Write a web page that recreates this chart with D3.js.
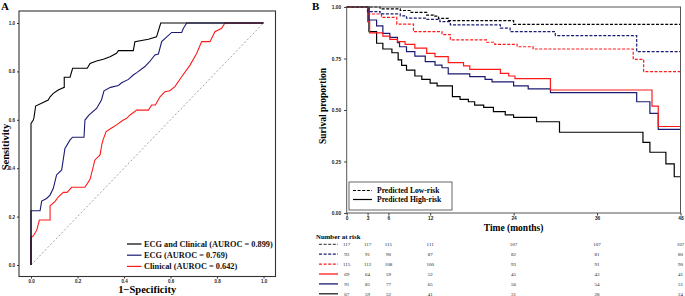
<!DOCTYPE html>
<html>
<head>
<meta charset="utf-8">
<script src="https://cdn.jsdelivr.net/npm/d3@7"></script>
<style>
  body { margin: 0; background: #fff; }
  svg { display: block; font-family: "Liberation Serif", "Times New Roman", serif; }
  .tick text { font-weight: bold; fill: #222; }
  .tick line { stroke: #333; }
</style>
</head>
<body>
<div id="chart"></div>
<script>
// ---- panel A: ROC data (1-specificity, sensitivity) ----
const rocComboFpr  = [0, 0, 0.01, 0.013, 0.02, 0.074, 0.082, 0.096, 0.117, 0.143, 0.143, 0.168, 0.179, 0.242, 0.254, 0.282, 0.311, 0.34, 0.368, 0.376, 0.44, 0.447, 0.505, 0.54, 0.558, 1];
const rocComboSens = [0, 0.585, 0.599, 0.61, 0.657, 0.682, 0.695, 0.709, 0.723, 0.734, 0.776, 0.776, 0.813, 0.813, 0.833, 0.843, 0.85, 0.861, 0.875, 0.886, 0.886, 0.923, 0.933, 0.943, 1, 1];

const rocEcgFpr  = [0, 0, 0.039, 0.046, 0.067, 0.082, 0.096, 0.11, 0.132, 0.146, 0.168, 0.179, 0.228, 0.232, 0.25, 0.282, 0.303, 0.314, 0.342, 0.376, 0.39, 0.419, 0.44, 0.455, 0.49, 0.51, 0.533, 0.548, 0.562, 0.584, 0.605, 0.648, 0.655, 0.67, 1];
const rocEcgSens = [0, 0.224, 0.224, 0.264, 0.275, 0.289, 0.317, 0.372, 0.393, 0.482, 0.517, 0.528, 0.528, 0.599, 0.62, 0.647, 0.682, 0.72, 0.734, 0.742, 0.753, 0.767, 0.785, 0.795, 0.82, 0.84, 0.868, 0.872, 0.923, 0.943, 0.961, 0.961, 0.977, 1, 1];

const rocClinFpr  = [0, 0, 0.01, 0.025, 0.036, 0.082, 0.082, 0.103, 0.118, 0.139, 0.155, 0.175, 0.232, 0.254, 0.275, 0.297, 0.305, 0.31, 0.323, 0.345, 0.368, 0.397, 0.41, 0.426, 0.455, 0.505, 0.519, 0.535, 0.555, 0.576, 0.597, 0.619, 0.648, 0.684, 0.713, 0.734, 0.77, 0.791, 0.82, 0.834, 1];
const rocClinSens = [0, 0.114, 0.12, 0.145, 0.186, 0.186, 0.245, 0.262, 0.282, 0.3, 0.3, 0.321, 0.321, 0.354, 0.434, 0.455, 0.5, 0.517, 0.551, 0.565, 0.579, 0.599, 0.605, 0.62, 0.64, 0.64, 0.661, 0.661, 0.695, 0.716, 0.72, 0.737, 0.778, 0.826, 0.875, 0.923, 0.923, 0.964, 0.978, 1, 1];

const rocLabels = ["ECG and Clinical (AUROC = 0.899)", "ECG (AUROC = 0.769)", "Clinical (AUROC = 0.642)"];
const rocTicks = [0, 0.2, 0.4, 0.6, 0.8, 1.0];

// ---- panel B: Kaplan-Meier steps (time in months, survival) ----
const kmComboLowTime  = [0, 4.8, 7.7, 9.1, 11.5, 12.5, 13.2, 14.6, 24];
const kmComboLowSurv  = [1, 0.991, 0.983, 0.974, 0.961, 0.956, 0.945, 0.934, 0.916];
const kmEcgLowTime    = [0, 3.0, 4.8, 7.7, 8.6, 11.3, 13.4, 14.9, 22.1, 23.5, 30, 41.7];
const kmEcgLowSurv    = [1, 0.978, 0.967, 0.957, 0.946, 0.94, 0.929, 0.913, 0.897, 0.88, 0.861, 0.783];
const kmClinLowTime   = [0, 3.0, 5.0, 7.2, 9.6, 13.7, 14.9, 20.1, 21.3, 24.5, 26.8, 41.2, 42.7];
const kmClinLowSurv   = [1, 0.966, 0.95, 0.917, 0.88, 0.866, 0.84, 0.829, 0.819, 0.807, 0.796, 0.746, 0.686];
const kmClinHighTime  = [0, 3.0, 3.3, 5.2, 6.2, 7.3, 8.4, 9.8, 11.5, 12.7, 14.6, 16.8, 17.7, 22.1, 23.3, 24.2, 29.3, 43.9, 44.8];
const kmClinHighSurv  = [1, 0.929, 0.874, 0.859, 0.843, 0.832, 0.819, 0.80, 0.775, 0.759, 0.730, 0.714, 0.697, 0.678, 0.665, 0.652, 0.597, 0.519, 0.42];
const kmEcgHighTime   = [0, 3.2, 4.3, 5.2, 6.2, 7.3, 7.6, 8.6, 9.8, 11.3, 12.7, 13.7, 14.6, 17.7, 19.9, 20.9, 24, 26.1, 29.3, 41.7, 43.6, 44.8];
const kmEcgHighSurv   = [1, 0.937, 0.908, 0.872, 0.853, 0.827, 0.807, 0.783, 0.762, 0.735, 0.718, 0.705, 0.675, 0.662, 0.649, 0.637, 0.617, 0.603, 0.584, 0.54, 0.484, 0.406];
const kmComboHighTime = [0, 3.2, 4.3, 5.2, 6.5, 7.4, 7.9, 8.6, 9.8, 10.8, 12, 13, 15.2, 16.3, 17.5, 18.4, 19.7, 21.1, 22.8, 24, 27.3, 30.6, 42.6, 43.6, 45.9, 47.1];
const kmComboHighSurv = [1, 0.88, 0.824, 0.796, 0.778, 0.743, 0.717, 0.694, 0.665, 0.649, 0.63, 0.617, 0.565, 0.552, 0.54, 0.524, 0.513, 0.492, 0.476, 0.464, 0.443, 0.392, 0.343, 0.295, 0.238, 0.176];

const kmTicks = [0, 3, 6, 12, 24, 36, 48];
const kmSurvTicks = [0, 0.25, 0.5, 0.75, 1];
const legendLabels = ["Predicted Low-risk", "Predicted High-risk"];

// number at risk, one row per curve, at each of kmTicks
const riskComboLow  = [117, 117, 115, 111, 107, 107, 107];
const riskEcgLow    = [93, 91, 90, 87, 82, 81, 80];
const riskClinLow   = [115, 112, 108, 100, 93, 91, 90];
const riskClinHigh  = [69, 64, 59, 52, 45, 43, 41];
const riskEcgHigh   = [91, 85, 77, 65, 56, 54, 51];
const riskComboHigh = [67, 59, 52, 41, 31, 28, 24];

const BLACK = "#000000", NAVY = "#1b1b72", RED = "#ff1a1a";

const svg = d3.select("#chart").append("svg")
    .attr("width", 685)
    .attr("height", 296);

// ================= Panel A =================
const xA = d3.scaleLinear().domain([0, 1]).range([31, 263.5]);
const yA = d3.scaleLinear().domain([0, 1]).range([265, 23]);
const frameA = { left: 19, right: 275.5, top: 11, bottom: 276.5 };

svg.append("text")
    .attr("x", 1).attr("y", 10)
    .attr("font-size", 11).attr("font-weight", "bold")
    .text("A");

const axisLeftA = svg.append("g")
    .attr("transform", `translate(${frameA.left},0)`)
    .call(d3.axisLeft(yA).tickValues(rocTicks).tickFormat(d3.format(".1f")).tickSize(2).tickPadding(2));
axisLeftA.select(".domain").remove();
axisLeftA.selectAll("text").attr("font-size", 4.5).attr("font-family", null);

const axisBottomA = svg.append("g")
    .attr("transform", `translate(0,${frameA.bottom})`)
    .call(d3.axisBottom(xA).tickValues(rocTicks).tickFormat(d3.format(".1f")).tickSize(2).tickPadding(1.5));
axisBottomA.select(".domain").remove();
axisBottomA.selectAll("text").attr("font-size", 4.5).attr("font-family", null);

// reference diagonal
svg.append("line")
    .attr("x1", xA(0)).attr("y1", yA(0))
    .attr("x2", xA(1)).attr("y2", yA(1))
    .attr("stroke", "#9a9a9a").attr("stroke-width", 0.9)
    .attr("stroke-dasharray", "2,2");

const rocLine = d3.line().x(d => xA(d[0])).y(d => yA(d[1]));
const rocSeries = [
    { fpr: rocClinFpr, sens: rocClinSens, color: RED },
    { fpr: rocEcgFpr, sens: rocEcgSens, color: NAVY },
    { fpr: rocComboFpr, sens: rocComboSens, color: BLACK }
];
rocSeries.forEach(s => {
    svg.append("path")
        .datum(s.fpr.map((f, i) => [f, s.sens[i]]))
        .attr("d", rocLine)
        .attr("fill", "none")
        .attr("stroke", s.color)
        .attr("stroke-width", 1.1);
});

svg.append("rect")
    .attr("x", frameA.left).attr("y", frameA.top)
    .attr("width", frameA.right - frameA.left)
    .attr("height", frameA.bottom - frameA.top)
    .attr("fill", "none").attr("stroke", "#333").attr("stroke-width", 1.1);

// legend A
const legColors = [BLACK, NAVY, RED];
rocLabels.forEach((lab, i) => {
    const y = 244 + i * 11.2;
    svg.append("line")
        .attr("x1", 127).attr("x2", 141.5).attr("y1", y).attr("y2", y)
        .attr("stroke", legColors[i]).attr("stroke-width", 1.2);
    svg.append("text")
        .attr("x", 144).attr("y", y + 3)
        .attr("font-size", 8.3).attr("font-weight", "bold").attr("fill", "#111")
        .text(lab);
});

svg.append("text")
    .attr("x", (frameA.left + frameA.right) / 2).attr("y", 293)
    .attr("text-anchor", "middle")
    .attr("font-size", 10.5).attr("font-weight", "bold")
    .text("1\u2212Specificity");

svg.append("text")
    .attr("transform", "translate(8.5,147) rotate(-90)")
    .attr("text-anchor", "middle")
    .attr("font-size", 10.5).attr("font-weight", "bold")
    .text("Sensitivity");

// ================= Panel B =================
const xB = d3.scaleLinear().domain([0, 48]).range([346.7, 680.5]);
const yB = d3.scaleLinear().domain([0, 1]).range([213, 7]);

svg.append("text")
    .attr("x", 312).attr("y", 10)
    .attr("font-size", 11).attr("font-weight", "bold")
    .text("B");

const axisLeftB = svg.append("g")
    .attr("transform", `translate(${xB(0)},0)`)
    .call(d3.axisLeft(yB).tickValues(kmSurvTicks).tickFormat(d3.format(".2f")).tickSize(2.5).tickPadding(3));
axisLeftB.select(".domain").remove();
axisLeftB.selectAll("text").attr("font-size", 4.8).attr("font-family", null);

const axisBottomB = svg.append("g")
    .attr("transform", `translate(0,${yB(0)})`)
    .call(d3.axisBottom(xB).tickValues(kmTicks).tickSize(2.5).tickPadding(1.5));
axisBottomB.select(".domain").remove();
axisBottomB.selectAll("text").attr("font-size", 4.8).attr("font-family", null);

const kmLine = d3.line()
    .x(d => xB(d[0]))
    .y(d => yB(d[1]))
    .curve(d3.curveStepAfter);

const kmSeries = [
    { t: kmComboHighTime, s: kmComboHighSurv, color: BLACK, dash: null },
    { t: kmEcgHighTime, s: kmEcgHighSurv, color: NAVY, dash: null },
    { t: kmClinHighTime, s: kmClinHighSurv, color: RED, dash: null },
    { t: kmClinLowTime, s: kmClinLowSurv, color: RED, dash: "3,1.6" },
    { t: kmEcgLowTime, s: kmEcgLowSurv, color: NAVY, dash: "3,1.6" },
    { t: kmComboLowTime, s: kmComboLowSurv, color: BLACK, dash: "3,1.6" }
];
kmSeries.forEach(k => {
    const pts = k.t.map((t, i) => [t, k.s[i]]);
    pts.push([48, k.s[k.s.length - 1]]);
    svg.append("path")
        .datum(pts)
        .attr("d", kmLine)
        .attr("fill", "none")
        .attr("stroke", k.color)
        .attr("stroke-width", 1.2)
        .attr("stroke-dasharray", k.dash);
});

svg.append("rect")
    .attr("x", xB(0)).attr("y", yB(1))
    .attr("width", xB(48) - xB(0))
    .attr("height", yB(0) - yB(1))
    .attr("fill", "none").attr("stroke", "#555").attr("stroke-width", 1);

// legend B
svg.append("rect")
    .attr("x", 349).attr("y", 182).attr("width", 103).attr("height", 28)
    .attr("fill", "#fff").attr("stroke", "#555").attr("stroke-width", 0.9);
legendLabels.forEach((lab, i) => {
    const y = 190.5 + i * 9;
    svg.append("line")
        .attr("x1", 353).attr("x2", 372).attr("y1", y).attr("y2", y)
        .attr("stroke", "#000").attr("stroke-width", 1.2)
        .attr("stroke-dasharray", i === 0 ? "3,1.6" : null);
    svg.append("text")
        .attr("x", 377).attr("y", y + 2.8)
        .attr("font-size", 7.6).attr("font-weight", "bold")
        .text(lab);
});

svg.append("text")
    .attr("x", (xB(0) + xB(48)) / 2).attr("y", 230.5)
    .attr("text-anchor", "middle")
    .attr("font-size", 9.5).attr("font-weight", "bold")
    .text("Time (months)");

svg.append("text")
    .attr("transform", "translate(326,106) rotate(-90)")
    .attr("text-anchor", "middle")
    .attr("font-size", 9.5).attr("font-weight", "bold")
    .text("Surival proportion");

// number at risk table
svg.append("text")
    .attr("x", 316).attr("y", 238.5)
    .attr("font-size", 6.8).attr("font-weight", "bold")
    .text("Number at risk");

const riskRows = [
    { n: riskComboLow, color: "#555", dash: "3,1.6" },
    { n: riskEcgLow, color: NAVY, dash: "3,1.6" },
    { n: riskClinLow, color: RED, dash: "3,1.6" },
    { n: riskClinHigh, color: RED, dash: null },
    { n: riskEcgHigh, color: NAVY, dash: null },
    { n: riskComboHigh, color: "#222", dash: null }
];
riskRows.forEach((r, i) => {
    const y = 244.3 + i * 9.9;
    svg.append("line")
        .attr("x1", 319).attr("x2", 338).attr("y1", y).attr("y2", y)
        .attr("stroke", r.color).attr("stroke-width", 1.3)
        .attr("stroke-dasharray", r.dash);
    svg.selectAll(null)
        .data(r.n)
        .join("text")
        .attr("x", (d, j) => xB(kmTicks[j]))
        .attr("y", y + 1.8)
        .attr("text-anchor", "middle")
        .attr("font-size", 5)
        .attr("fill", "#222")
        .text(d => d);
});
</script>
</body>
</html>
